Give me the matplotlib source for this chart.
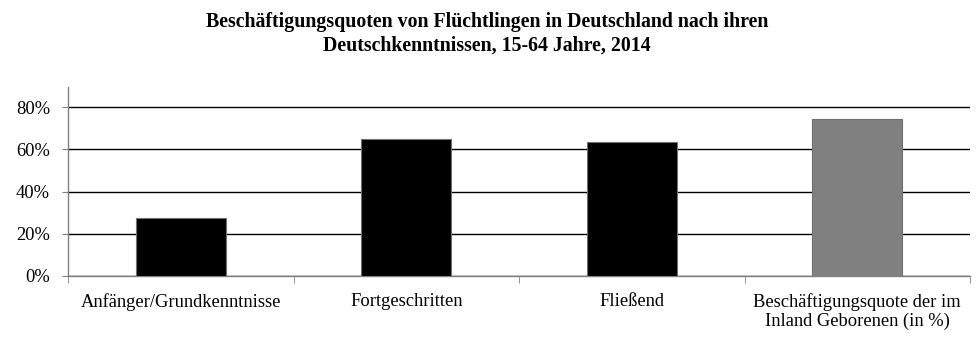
import numpy as np
import matplotlib.pyplot as plt
from matplotlib.ticker import PercentFormatter

# Daten
kategorien = ["Anfänger/Grundkenntnisse", "Fortgeschritten", "Fließend",
              "Beschäftigungsquote der im\nInland Geborenen (in %)"]
quoten = [27.5, 65.0, 63.6, 74.5]
farben = ["black", "black", "black", "#808080"]
y_ticks = [0, 20, 40, 60, 80]

plt.rcParams['font.family'] = ['Liberation Serif', 'DejaVu Serif']

fig = plt.figure(figsize=(9.8, 3.61), dpi=100)
ax = fig.add_axes([0.0694, 0.2355, 0.9204, 0.5235])

x = np.arange(len(kategorien))
ax.bar(x, quoten, width=0.4, color=farben, edgecolor="#707070", linewidth=0.8, zorder=3)

ax.set_xlim(-0.5, len(kategorien) - 0.5)
ax.set_ylim(0, 89.5)
ax.set_yticks(y_ticks)
ax.yaxis.set_major_formatter(PercentFormatter(decimals=0))
ax.grid(axis="y", color="black", linewidth=1.0, zorder=0)

ax.set_xticks(x)
ax.set_xticklabels(kategorien, fontsize=13.3, linespacing=1.2)
ax.set_xticks(np.arange(len(kategorien) + 1) - 0.5, minor=True)
ax.tick_params(axis="x", which="major", length=0, pad=12)
ax.tick_params(axis="x", which="minor", length=5, color="#808080", direction="out")
ax.tick_params(axis="y", length=4, color="#808080", labelsize=13.3, pad=9)

for s in ["top", "right"]:
    ax.spines[s].set_visible(False)
for s in ["left", "bottom"]:
    ax.spines[s].set_color("#808080")
    ax.spines[s].set_linewidth(1.0)

fig.text(0.497, 0.968, "Beschäftigungsquoten von Flüchtlingen in Deutschland nach ihren\n"
         "Deutschkenntnissen, 15-64 Jahre, 2014",
         ha="center", va="top", fontsize=14.3, fontweight="bold", linespacing=1.25)

plt.savefig("out.png", dpi=100)
